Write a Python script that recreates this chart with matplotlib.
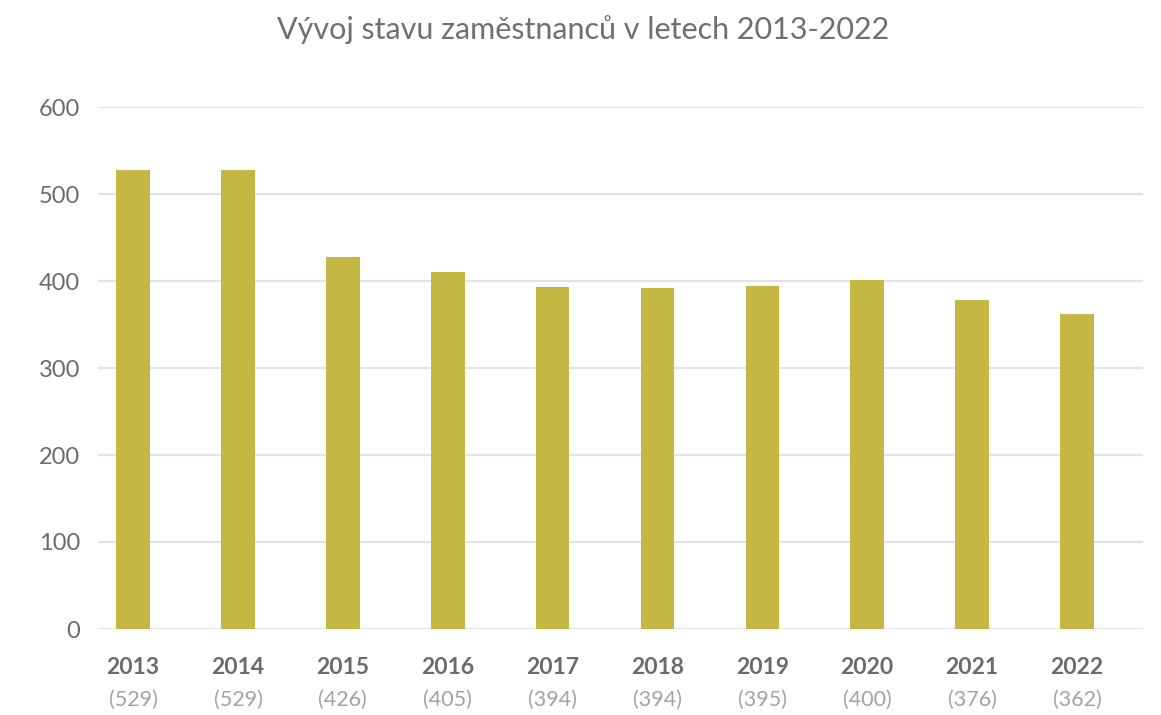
import matplotlib
matplotlib.use("Agg")
import matplotlib.pyplot as plt
import matplotlib.transforms as mtransforms

years = ["2013", "2014", "2015", "2016", "2017", "2018", "2019", "2020", "2021", "2022"]
bar_values = [528, 528, 428, 410, 393, 392, 394, 401, 378, 362]
label_values = ["(529)", "(529)", "(426)", "(405)", "(394)", "(394)", "(395)", "(400)", "(376)", "(362)"]
yticks = [0, 100, 200, 300, 400, 500, 600]
title = "Vývoj stavu zaměstnanců v letech 2013-2022"

plt.rcParams['font.family'] = ['Lato', 'DejaVu Sans']

fig = plt.figure(figsize=(11.61, 7.15), dpi=100)
ax = fig.add_axes([98/1161, 1-629/715, (1143-98)/1161, (629-107)/715])

x = list(range(len(years)))
ax.bar(x, bar_values, width=0.32, color="#c5b744", zorder=3)

ax.set_ylim(0, 600)
ax.set_xlim(-0.335, 9.63)
ax.set_yticks(yticks)
ax.set_yticklabels([str(v) for v in yticks], fontsize=17, color="#6b6b6b")
ax.tick_params(axis='y', length=0, pad=13)
ax.set_xticks([])
ax.grid(axis='y', color="#e3e3e3", linewidth=1.6, zorder=0)
for s in ax.spines.values():
    s.set_visible(False)

trans = mtransforms.blended_transform_factory(ax.transData, fig.transFigure)
for xi, yr, lv in zip(x, years, label_values):
    ax.text(xi, 1-668/715, yr, transform=trans, ha='center', va='center',
            fontsize=16.5, fontweight='bold', color="#6b6b6b")
    ax.text(xi, 1-700/715, lv, transform=trans, ha='center', va='center',
            fontsize=15.5, fontweight='normal', color="#a3a3a3")

fig.text(583/1161, 1-30/715, title, ha='center', va='center', fontsize=22, color="#707070")

fig.savefig("out.png", dpi=100, facecolor="white")
